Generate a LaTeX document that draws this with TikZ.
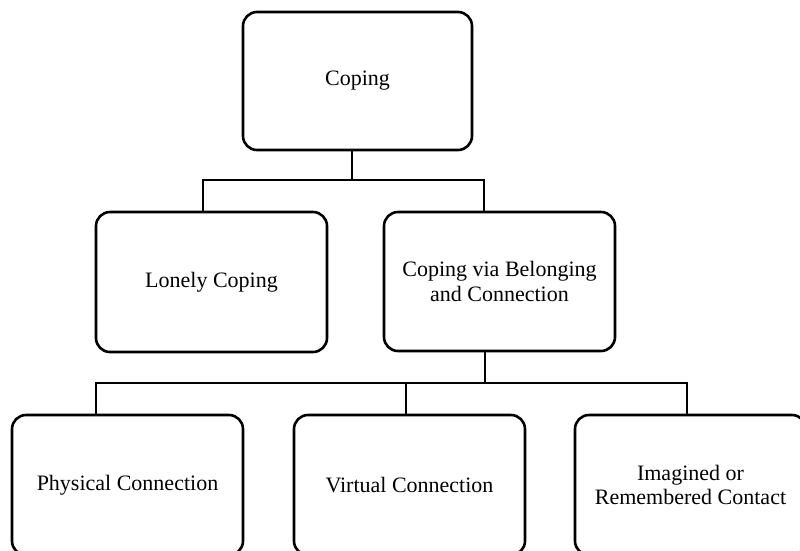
\documentclass[tikz,border=0pt]{standalone}
\usepackage{fontspec}
\setmainfont{Liberation Serif}
\begin{document}
\begin{tikzpicture}[x=1pt,y=-1pt,
  box/.style={draw=black, line width=2.6pt, rounded corners=14pt,
    minimum width=231pt, minimum height=140pt, align=center,
    inner sep=0pt, font=\fontsize{22}{24.5}\selectfont},
  link/.style={draw=black, line width=2.6pt}]
\useasboundingbox (0,0) rectangle (800,550);

% boxes
\node[box, minimum width=229pt, minimum height=138pt] (coping) at (357.5,81) {Coping};
\node[box] (lonely) at (211.5,282) {Lonely Coping};
\node[box, minimum height=139pt] (belong) at (499.5,281.5) {Coping via Belonging\\and Connection};
\node[box] (physical) at (127.5,485) {Physical Connection};
\node[box] (virtual) at (409.5,485) {Virtual Connection};
\node[box] (imagined) at (690.5,485) {Imagined or\\Remembered Contact};

% junction points of the connectors
\coordinate (top) at (352,180);
\coordinate (topl) at (203,180);
\coordinate (topr) at (484,180);
\coordinate (mid) at (485,383);
\coordinate (midl) at (96,383);
\coordinate (midc) at (406,383);
\coordinate (midr) at (687,383);

% first level
\draw[link] (coping.south -| top) -- (top);
\draw[link] (lonely.north -| topl) -- (topl) -- (topr) -- (belong.north -| topr);

% second level
\draw[link] (belong.south -| mid) -- (mid);
\draw[link] (physical.north -| midl) -- (midl) -- (midr) -- (imagined.north -| midr);
\draw[link] (midc) -- (virtual.north -| midc);
\end{tikzpicture}
\end{document}
